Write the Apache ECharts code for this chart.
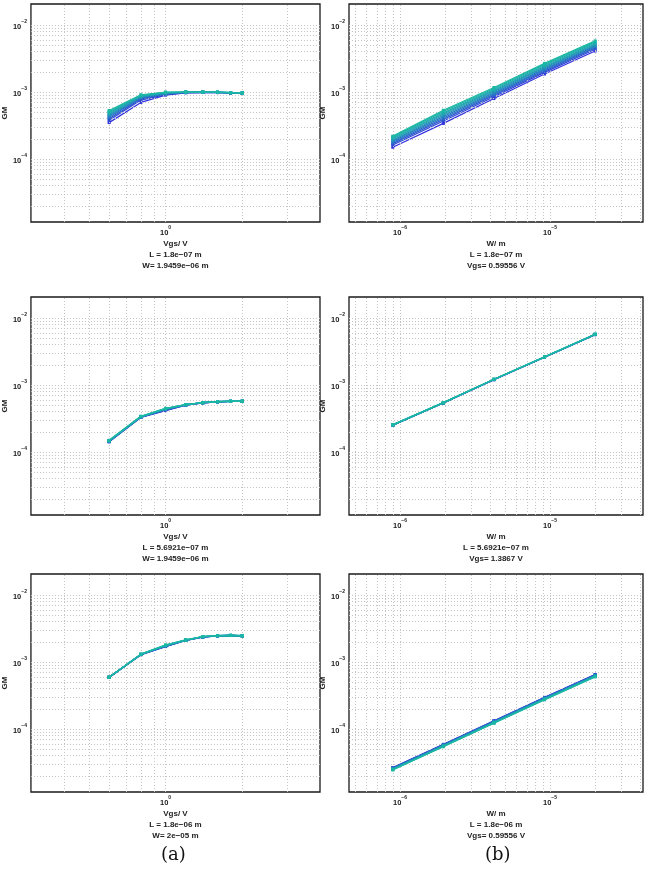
<!DOCTYPE html>
<html>
<head>
<meta charset="utf-8">
<script src="https://cdn.jsdelivr.net/npm/echarts@6/dist/echarts.min.js"></script>
<style>
html, body { margin: 0; padding: 0; background: #fff; }
#main { width: 655px; height: 872px; }
</style>
</head>
<body>
<div id="main"></div>
<script>
// x values
var vgs = [0.6, 0.8, 1.0, 1.2, 1.4, 1.6, 1.8, 2.0];
var wid = [8.95e-7, 1.9459e-6, 4.2305e-6, 9.197e-6, 2e-5];

// GM vs Vgs, L = 1.8e-07 m, W = 1.9459e-06 m  (curves from blue to cyan)
var gmVgsA = [
    [3.50e-4, 7.00e-4, 9.00e-4, 9.75e-4, 9.85e-4, 9.80e-4, 9.70e-4, 9.60e-4],
    [3.80e-4, 7.60e-4, 9.15e-4, 9.80e-4, 9.90e-4, 9.85e-4, 9.72e-4, 9.62e-4],
    [4.00e-4, 7.90e-4, 9.30e-4, 9.85e-4, 9.92e-4, 9.87e-4, 9.74e-4, 9.63e-4],
    [4.20e-4, 8.15e-4, 9.40e-4, 9.90e-4, 9.95e-4, 9.89e-4, 9.76e-4, 9.64e-4],
    [4.40e-4, 8.35e-4, 9.50e-4, 9.92e-4, 9.97e-4, 9.90e-4, 9.77e-4, 9.65e-4],
    [4.55e-4, 8.50e-4, 9.60e-4, 9.95e-4, 9.98e-4, 9.91e-4, 9.78e-4, 9.66e-4],
    [4.75e-4, 8.65e-4, 9.70e-4, 9.97e-4, 1.00e-3, 9.92e-4, 9.79e-4, 9.67e-4],
    [4.90e-4, 8.80e-4, 9.80e-4, 1.00e-3, 1.00e-3, 9.93e-4, 9.80e-4, 9.68e-4],
    [5.10e-4, 8.95e-4, 9.90e-4, 1.00e-3, 1.00e-3, 9.94e-4, 9.81e-4, 9.69e-4],
    [5.30e-4, 9.10e-4, 1.00e-3, 1.00e-3, 1.00e-3, 9.95e-4, 9.82e-4, 9.70e-4]
];

// GM vs W, L = 1.8e-07 m, Vgs = 0.59556 V
var gmWA = [
    [1.50e-4, 3.40e-4, 8.00e-4, 1.86e-3, 4.10e-3],
    [1.62e-4, 3.70e-4, 8.50e-4, 1.96e-3, 4.35e-3],
    [1.70e-4, 3.90e-4, 8.90e-4, 2.05e-3, 4.55e-3],
    [1.77e-4, 4.10e-4, 9.30e-4, 2.14e-3, 4.70e-3],
    [1.85e-4, 4.30e-4, 9.70e-4, 2.22e-3, 4.85e-3],
    [1.92e-4, 4.50e-4, 1.01e-3, 2.31e-3, 5.00e-3],
    [1.99e-4, 4.70e-4, 1.05e-3, 2.40e-3, 5.20e-3],
    [2.06e-4, 4.90e-4, 1.09e-3, 2.49e-3, 5.40e-3],
    [2.13e-4, 5.15e-4, 1.13e-3, 2.58e-3, 5.60e-3],
    [2.20e-4, 5.35e-4, 1.17e-3, 2.68e-3, 5.80e-3]
];

// GM vs Vgs, L = 5.6921e-07 m, W = 1.9459e-06 m
var gmVgsB = [
    [1.42e-4, 3.30e-4, 4.15e-4, 5.02e-4, 5.42e-4, 5.62e-4, 5.70e-4, 5.72e-4],
    [1.43e-4, 3.31e-4, 4.20e-4, 5.03e-4, 5.43e-4, 5.62e-4, 5.70e-4, 5.72e-4],
    [1.44e-4, 3.32e-4, 4.25e-4, 5.04e-4, 5.44e-4, 5.63e-4, 5.71e-4, 5.72e-4],
    [1.45e-4, 3.33e-4, 4.30e-4, 5.05e-4, 5.44e-4, 5.63e-4, 5.71e-4, 5.73e-4],
    [1.46e-4, 3.35e-4, 4.34e-4, 5.06e-4, 5.45e-4, 5.64e-4, 5.71e-4, 5.73e-4],
    [1.46e-4, 3.36e-4, 4.38e-4, 5.07e-4, 5.45e-4, 5.64e-4, 5.72e-4, 5.73e-4],
    [1.47e-4, 3.38e-4, 4.41e-4, 5.08e-4, 5.46e-4, 5.65e-4, 5.72e-4, 5.73e-4],
    [1.48e-4, 3.39e-4, 4.44e-4, 5.09e-4, 5.47e-4, 5.65e-4, 5.72e-4, 5.74e-4],
    [1.49e-4, 3.41e-4, 4.47e-4, 5.11e-4, 5.47e-4, 5.66e-4, 5.73e-4, 5.74e-4],
    [1.50e-4, 3.42e-4, 4.50e-4, 5.12e-4, 5.48e-4, 5.66e-4, 5.73e-4, 5.74e-4]
];

// GM vs W, L = 5.6921e-07 m, Vgs = 1.3867 V
var gmWB = [
    [2.52e-4, 5.40e-4, 1.20e-3, 2.60e-3, 5.65e-3],
    [2.52e-4, 5.41e-4, 1.20e-3, 2.60e-3, 5.66e-3],
    [2.53e-4, 5.42e-4, 1.21e-3, 2.61e-3, 5.67e-3],
    [2.53e-4, 5.43e-4, 1.21e-3, 2.61e-3, 5.68e-3],
    [2.54e-4, 5.43e-4, 1.21e-3, 2.62e-3, 5.69e-3],
    [2.54e-4, 5.44e-4, 1.21e-3, 2.62e-3, 5.70e-3],
    [2.55e-4, 5.45e-4, 1.22e-3, 2.62e-3, 5.71e-3],
    [2.55e-4, 5.45e-4, 1.22e-3, 2.63e-3, 5.72e-3],
    [2.55e-4, 5.46e-4, 1.22e-3, 2.63e-3, 5.73e-3],
    [2.56e-4, 5.46e-4, 1.22e-3, 2.63e-3, 5.73e-3]
];

// GM vs Vgs, L = 1.8e-06 m, W = 2e-05 m
var gmVgsC = [
    [5.90e-4, 1.29e-3, 1.70e-3, 2.10e-3, 2.36e-3, 2.46e-3, 2.49e-3, 2.46e-3],
    [5.90e-4, 1.29e-3, 1.71e-3, 2.10e-3, 2.36e-3, 2.46e-3, 2.49e-3, 2.46e-3],
    [5.91e-4, 1.29e-3, 1.72e-3, 2.11e-3, 2.37e-3, 2.46e-3, 2.49e-3, 2.46e-3],
    [5.91e-4, 1.30e-3, 1.73e-3, 2.11e-3, 2.37e-3, 2.47e-3, 2.49e-3, 2.46e-3],
    [5.92e-4, 1.30e-3, 1.74e-3, 2.12e-3, 2.38e-3, 2.47e-3, 2.50e-3, 2.47e-3],
    [5.92e-4, 1.30e-3, 1.75e-3, 2.12e-3, 2.38e-3, 2.47e-3, 2.50e-3, 2.47e-3],
    [5.93e-4, 1.30e-3, 1.76e-3, 2.13e-3, 2.39e-3, 2.47e-3, 2.50e-3, 2.47e-3],
    [5.93e-4, 1.31e-3, 1.77e-3, 2.13e-3, 2.39e-3, 2.48e-3, 2.50e-3, 2.47e-3],
    [5.94e-4, 1.31e-3, 1.79e-3, 2.14e-3, 2.40e-3, 2.48e-3, 2.50e-3, 2.47e-3],
    [5.95e-4, 1.31e-3, 1.80e-3, 2.14e-3, 2.40e-3, 2.48e-3, 2.50e-3, 2.47e-3]
];

// GM vs W, L = 1.8e-06 m, Vgs = 0.59556 V
var gmWC = [
    [2.66e-5, 5.92e-5, 1.33e-4, 2.97e-4, 6.52e-4],
    [2.64e-5, 5.87e-5, 1.32e-4, 2.95e-4, 6.47e-4],
    [2.62e-5, 5.82e-5, 1.31e-4, 2.92e-4, 6.41e-4],
    [2.59e-5, 5.77e-5, 1.29e-4, 2.90e-4, 6.35e-4],
    [2.57e-5, 5.72e-5, 1.28e-4, 2.87e-4, 6.30e-4],
    [2.55e-5, 5.67e-5, 1.27e-4, 2.85e-4, 6.24e-4],
    [2.53e-5, 5.62e-5, 1.26e-4, 2.82e-4, 6.18e-4],
    [2.50e-5, 5.56e-5, 1.25e-4, 2.79e-4, 6.12e-4],
    [2.48e-5, 5.50e-5, 1.23e-4, 2.76e-4, 6.06e-4],
    [2.45e-5, 5.44e-5, 1.22e-4, 2.73e-4, 6.00e-4]
];

// grid line positions (log decades and their 2..9 sub-steps)
var vgsGridX = [0.4, 0.5, 0.6, 0.7, 0.8, 0.9, 1, 2, 3];
var wGridX = [5e-7, 6e-7, 7e-7, 8e-7, 9e-7, 1e-6, 2e-6, 3e-6, 4e-6, 5e-6, 6e-6, 7e-6, 8e-6, 9e-6,
              1e-5, 2e-5, 3e-5, 4e-5];
var gmGridY = [2e-5, 3e-5, 4e-5, 5e-5, 6e-5, 7e-5, 8e-5, 9e-5,
               1e-4, 2e-4, 3e-4, 4e-4, 5e-4, 6e-4, 7e-4, 8e-4, 9e-4,
               1e-3, 2e-3, 3e-3, 4e-3, 5e-3, 6e-3, 7e-3, 8e-3, 9e-3, 1e-2];

var captions = [
    'Vgs/ V\nL = 1.8e\u221207 m\nW= 1.9459e\u221206 m',
    'W/ m\nL = 1.8e\u221207 m\nVgs= 0.59556 V',
    'Vgs/ V\nL = 5.6921e\u221207 m\nW= 1.9459e\u221206 m',
    'W/ m\nL = 5.6921e\u221207 m\nVgs= 1.3867 V',
    'Vgs/ V\nL = 1.8e\u221206 m\nW= 2e\u221205 m',
    'W/ m\nL = 1.8e\u221206 m\nVgs= 0.59556 V'
];

var colors = ['#3333dd', '#3047d6', '#2d5bcf', '#2a6ec8', '#2780c1',
              '#2491ba', '#219fb3', '#1faaad', '#1db2a8', '#1bb8a4'];

var myChart = echarts.init(document.getElementById('main'));

var panels = [
    { x: vgs, rows: gmVgsA, kind: 'vgs' },
    { x: wid, rows: gmWA, kind: 'w' },
    { x: vgs, rows: gmVgsB, kind: 'vgs' },
    { x: wid, rows: gmWB, kind: 'w' },
    { x: vgs, rows: gmVgsC, kind: 'vgs' },
    { x: wid, rows: gmWC, kind: 'w' }
];
var lefts = [26, 349];
var tops = [4, 297, 574];

function powLabel(v) {
    var l = Math.log10(v);
    var e = Math.round(l);
    if (Math.abs(l - e) > 1e-6) return '';
    return '{b|10}{s|' + (e < 0 ? '\u2212' + (-e) : e) + '}';
}

var labelRich = {
    b: { fontSize: 7.5, fontWeight: 'bold', color: '#222', lineHeight: 12, verticalAlign: 'bottom' },
    s: { fontSize: 5, fontWeight: 'bold', color: '#222', lineHeight: 6, verticalAlign: 'top' }
};

var grids = [], xAxes = [], yAxes = [], series = [];

panels.forEach(function (p, i) {
    var col = i % 2, row = Math.floor(i / 2);
    grids.push({
        left: lefts[col], top: tops[row], width: 294, height: 218,
        show: true, borderColor: '#1a1a1a', borderWidth: 1.3, backgroundColor: 'transparent'
    });
    xAxes.push({
        type: 'log', logBase: 10, gridIndex: i,
        min: p.kind === 'vgs' ? 0.296 : 4.57e-7,
        max: p.kind === 'vgs' ? 4.04 : 4.17e-5,
        axisLine: { show: false }, axisTick: { show: false }, splitLine: { show: false },
        axisLabel: { formatter: powLabel, rich: labelRich, margin: 3, showMinLabel: true, showMaxLabel: true },
        name: captions[i], nameLocation: 'middle', nameGap: 14,
        nameTextStyle: { fontSize: 8, fontWeight: 'bold', color: '#222', lineHeight: 11,
                         fontFamily: 'Liberation Sans' }
    });
    yAxes.push({
        type: 'log', logBase: 10, gridIndex: i,
        min: 1.15e-5, max: 2.06e-2,
        axisLine: { show: false }, axisTick: { show: false }, splitLine: { show: false },
        axisLabel: { formatter: powLabel, rich: labelRich, margin: 4 },
        name: 'GM', nameLocation: 'middle', nameGap: 19,
        nameTextStyle: { fontSize: 8, fontWeight: 'bold', color: '#222', fontFamily: 'Liberation Sans' }
    });

    // dotted grid through the axes
    var gx = p.kind === 'vgs' ? vgsGridX : wGridX;
    var mk = [];
    gx.forEach(function (v) { mk.push({ xAxis: v }); });
    gmGridY.forEach(function (v) { mk.push({ yAxis: v }); });
    series.push({
        type: 'line', xAxisIndex: i, yAxisIndex: i, data: [], z: 1, silent: true,
        markLine: {
            silent: true, symbol: 'none', label: { show: false }, precision: 20,
            lineStyle: { type: [1, 2], color: '#c4c4c4', width: 1 },
            emphasis: { disabled: true },
            data: mk
        }
    });

    p.rows.forEach(function (r, k) {
        series.push({
            type: 'line', xAxisIndex: i, yAxisIndex: i, z: 3 + k,
            data: p.x.map(function (xv, j) { return [xv, r[j]]; }),
            symbol: 'rect', symbolSize: 3,
            lineStyle: { width: 1.3, color: colors[k] },
            itemStyle: { color: colors[k] },
            silent: true
        });
    });
});

option = {
    animation: false,
    backgroundColor: '#fff',
    textStyle: { fontFamily: 'Liberation Sans' },
    grid: grids,
    xAxis: xAxes,
    yAxis: yAxes,
    series: series,
    graphic: [
        { type: 'text', left: 161, top: 846,
          style: { text: '(a)', font: '18px "DejaVu Serif"', fill: '#111' } },
        { type: 'text', left: 485, top: 846,
          style: { text: '(b)', font: '18px "DejaVu Serif"', fill: '#111' } }
    ]
};

myChart.setOption(option);
</script>
</body>
</html>
